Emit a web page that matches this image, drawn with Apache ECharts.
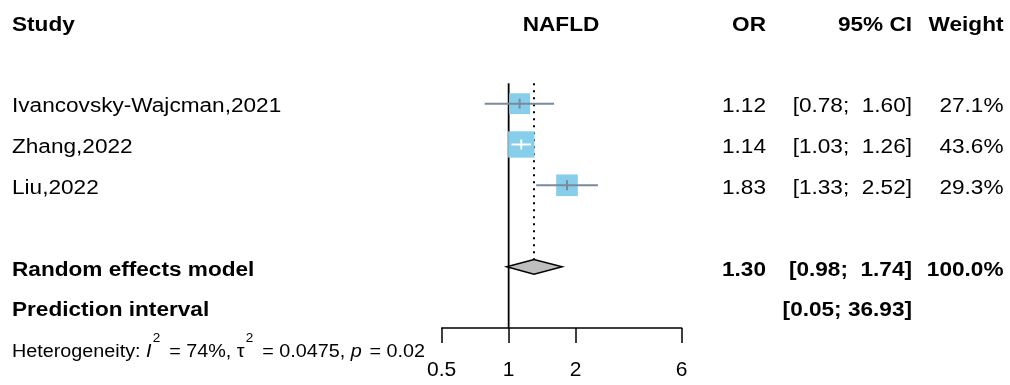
<!DOCTYPE html>
<html>
<head>
<meta charset="utf-8">
<title>NAFLD forest plot</title>
<script src="https://cdn.jsdelivr.net/npm/echarts@6/dist/echarts.min.js"></script>
<style>
  html, body { margin: 0; padding: 0; background: #fff; }
  #chart { width: 1010px; height: 385px; }
</style>
</head>
<body>
<div id="chart"></div>
<script>
// ---- data ----
const columnHeaders = ['Study', 'NAFLD', 'OR', '95% CI', 'Weight'];
const studyNames = ['Ivancovsky-Wajcman,2021', 'Zhang,2022', 'Liu,2022'];
const oddsRatios = [1.12, 1.14, 1.83];
const ciLower = [0.78, 1.03, 1.33];
const ciUpper = [1.60, 1.26, 2.52];
const studyWeights = [27.1, 43.6, 29.3];

const pooledLabel = 'Random effects model';
const pooledOR = 1.30;
const pooledCI = [0.98, 1.74];
const pooledWeight = 100.0;

const predictionLabel = 'Prediction interval';
const predictionCI = [0.05, 36.93];

const hetI2 = 74;
const hetTau2 = 0.0475;
const hetP = 0.02;

const axisTickValues = [0.5, 1, 2, 6];
const nullEffect = 1;

// ---- layout ----
const studyRows = [2, 3, 4];
const pooledRow = 6;
const predictionRow = 7;
const Y_MIN = 1.5, Y_MAX = 7.5;

const FONT = '"Liberation Sans", Arial, Helvetica, sans-serif';
const FS = 20, HET_FS = 17.5, SUP_FS = 12;
const SX = 1.13;                       // horizontal stretch of the table text
const TEXT_DY = 3.2;
const HET_Y = 352;
const cellX = [12, 561, 766, 912, 1003.5];
const cellAlign = ['left', 'center', 'right', 'right', 'right'];

const SQUARE_COLOR = '#87CEEB';
const CI_COLOR = '#7A8A9A';
const SQUARE_K = 4.0;                  // square side = K * sqrt(weight)
const DIAMOND_HALF = 7.3;

const fmt2 = v => v.toFixed(2);
const fmtCI = (lo, hi) => '[' + fmt2(lo) + '; ' + fmt2(hi).padStart(5, ' ') + ']';
const fmtW = w => w.toFixed(1) + '%';

const tableRows = [
  { row: 0, bold: true, cells: columnHeaders.slice() },
  ...studyNames.map((n, i) => ({
    row: studyRows[i], bold: false,
    cells: [n, '', fmt2(oddsRatios[i]), fmtCI(ciLower[i], ciUpper[i]), fmtW(studyWeights[i])]
  })),
  { row: pooledRow, bold: true,
    cells: [pooledLabel, '', fmt2(pooledOR), fmtCI(pooledCI[0], pooledCI[1]), fmtW(pooledWeight)] },
  { row: predictionRow, bold: true,
    cells: [predictionLabel, '', '', fmtCI(predictionCI[0], predictionCI[1]), ''] }
];

// ---- renderers ----
function renderTableRow(params, api) {
  const r = tableRows[params.dataIndex];
  const y = api.coord([api.value(0), api.value(1)])[1] + TEXT_DY;
  const children = [];
  r.cells.forEach((t, k) => {
    if (!t) return;
    children.push({
      type: 'text', x: cellX[k], y: y, scaleX: SX,
      style: {
        text: t, fill: '#000', fontFamily: FONT, fontSize: FS,
        fontWeight: r.bold ? 'bold' : 'normal',
        align: cellAlign[k], verticalAlign: 'middle'
      }
    });
  });
  return { type: 'group', children: children };
}

function renderRefLine(params, api) {
  const v = api.value(0);
  const top = api.coord([v, api.value(1)]);
  const bot = api.coord([v, api.value(2)]);
  const dotted = api.value(3) === 1;
  return {
    type: 'line',
    shape: { x1: top[0], y1: top[1], x2: top[0], y2: dotted ? bot[1] - DIAMOND_HALF : bot[1] },
    style: { stroke: '#000', lineWidth: dotted ? 2 : 1.8, lineDash: dotted ? [2, 5] : null }
  };
}

function renderStudy(params, api) {
  const row = api.value(4);
  const c = api.coord([api.value(0), row]);
  const lo = api.coord([api.value(1), row]);
  const hi = api.coord([api.value(2), row]);
  const side = SQUARE_K * Math.sqrt(api.value(3));
  const inside = lo[0] >= c[0] - side / 2 && hi[0] <= c[0] + side / 2;
  const lineColor = inside ? '#fff' : CI_COLOR;
  return {
    type: 'group',
    children: [
      { type: 'rect', shape: { x: c[0] - side / 2, y: c[1] - side / 2, width: side, height: side },
        style: { fill: SQUARE_COLOR } },
      { type: 'line', shape: { x1: lo[0], y1: c[1], x2: hi[0], y2: c[1] },
        style: { stroke: lineColor, lineWidth: 2 } },
      { type: 'line', shape: { x1: c[0], y1: c[1] - 5, x2: c[0], y2: c[1] + 5 },
        style: { stroke: lineColor, lineWidth: 2 } }
    ]
  };
}

function renderDiamond(params, api) {
  const row = api.value(3);
  const c = api.coord([api.value(0), row]);
  const lo = api.coord([api.value(1), row]);
  const hi = api.coord([api.value(2), row]);
  return {
    type: 'polygon',
    shape: { points: [[lo[0], c[1]], [c[0], c[1] - DIAMOND_HALF], [hi[0], c[1]], [c[0], c[1] + DIAMOND_HALF]] },
    style: { fill: '#BEBEBE', stroke: '#000', lineWidth: 1.5 }
  };
}

// ---- chart ----
const chart = echarts.init(document.getElementById('chart'), null, { renderer: 'canvas' });

chart.setOption({
  backgroundColor: '#fff',
  animation: false,
  grid: { left: 441.7, top: 83.3, width: 240, height: 244.7 },
  xAxis: {
    type: 'log', logBase: 10, min: 0.5, max: 6,
    axisLine: { show: true, onZero: false, lineStyle: { color: '#000', width: 1.5 } },
    axisTick: { show: true, length: 15, customValues: axisTickValues,
                lineStyle: { color: '#000', width: 1.5 } },
    axisLabel: { show: true, customValues: axisTickValues, margin: 32,
                 fontFamily: FONT, fontSize: 21, color: '#000',
                 formatter: v => String(+(+v).toPrecision(4)) },
    splitLine: { show: false },
    minorTick: { show: false }
  },
  yAxis: { type: 'value', inverse: true, min: Y_MIN, max: Y_MAX, show: false },
  series: [
    { type: 'custom', name: 'reference', silent: true, clip: false, renderItem: renderRefLine,
      data: [[nullEffect, Y_MIN, Y_MAX, 0], [pooledOR, Y_MIN, pooledRow, 1]] },
    { type: 'custom', name: 'studies', silent: true, clip: false, renderItem: renderStudy,
      data: studyNames.map((n, i) => [oddsRatios[i], ciLower[i], ciUpper[i], studyWeights[i], studyRows[i]]) },
    { type: 'custom', name: 'pooled', silent: true, clip: false, renderItem: renderDiamond,
      data: [[pooledOR, pooledCI[0], pooledCI[1], pooledRow]] },
    { type: 'custom', name: 'table', silent: true, clip: false, renderItem: renderTableRow,
      data: tableRows.map(r => [nullEffect, r.row]) }
  ],
  graphic: [{
    type: 'text', x: cellX[0], y: HET_Y, scaleX: SX, silent: true,
    style: {
      text: 'Heterogeneity: {it|I}{sup|2} = ' + hetI2 + '%, \u03C4{sup|2} = ' + hetTau2 + ', {itp|p} = ' + hetP,
      fontFamily: FONT, fontSize: HET_FS, fill: '#000', align: 'left', verticalAlign: 'middle',
      rich: {
        it: { fontFamily: FONT, fontSize: HET_FS, fontStyle: 'italic' },
        itp: { fontFamily: FONT, fontSize: HET_FS, fontStyle: 'italic', padding: [0, 2, 0, 0] },
        sup: { fontFamily: FONT, fontSize: SUP_FS, padding: [0, 3, 26, 1] }
      }
    }
  }]
});
</script>
</body>
</html>
